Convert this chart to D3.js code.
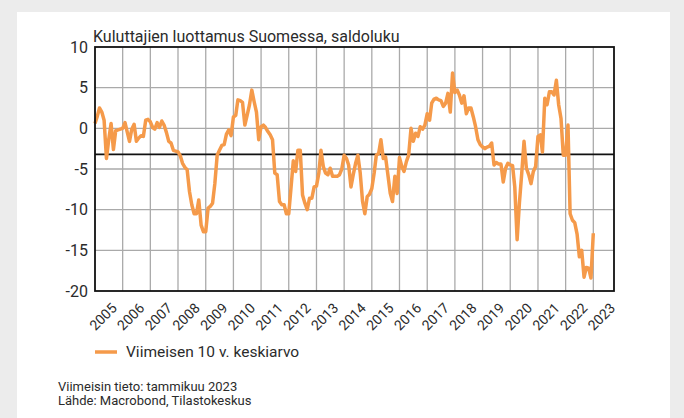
<!DOCTYPE html>
<html>
<head>
<meta charset="utf-8">
<script src="https://cdn.jsdelivr.net/npm/d3@7"></script>
<style>
  html, body { margin: 0; padding: 0; background: #ececec; }
  svg { display: block; font-family: Roboto, "DejaVu Sans", sans-serif; }
</style>
</head>
<body>
<div id="chart"></div>
<script>
// Kuluttajien luottamus Suomessa, kuukausittain tammikuu 2005 - tammikuu 2023
const startYear = 2005;
const confidence = [
    0.6, 1.5, 2.5, 2.0, 1.0, -3.7, -1.4, 0.6, -2.6, -0.3, -0.2, -0.1,          // 2005
    0.0, 0.7, -0.4, -1.6, -0.1, 0.5, -1.6, -1.2, -0.9, -1.0, 1.0, 1.1,         // 2006
    0.8, 0.1, -0.1, 0.7, 0.1, 0.9, 0.4, -0.5, -1.6, -1.8, -2.7, -2.8,          // 2007
    -2.9, -3.4, -4.3, -4.8, -5.1, -7.8, -9.4, -10.5, -10.5, -8.8, -11.9, -12.7, // 2008
    -12.7, -9.8, -9.6, -9.2, -6.8, -3.3, -2.7, -2.1, -2.0, -0.7, -0.2, -0.9,   // 2009
    1.4, 1.6, 3.5, 3.4, 3.2, 0.4, 1.6, 2.9, 4.7, 3.3, 2.0, -1.4,               // 2010
    0.2, 0.4, 0.1, -0.4, -0.8, -1.4, -5.5, -5.7, -9.0, -9.4, -9.4, -10.5,      // 2011
    -10.5, -7.2, -4.0, -5.3, -2.7, -2.7, -8.2, -9.2, -10.0, -8.6, -8.6, -7.2,  // 2012
    -7.1, -5.5, -2.7, -4.7, -5.5, -5.7, -4.9, -5.9, -5.9, -5.9, -5.7, -5.0,    // 2013
    -3.3, -3.7, -4.5, -7.2, -5.7, -4.3, -3.3, -5.5, -9.0, -10.5, -8.4, -8.1,   // 2014
    -7.4, -5.5, -3.3, -3.1, -1.4, -3.7, -3.5, -5.7, -8.0, -9.0, -5.9, -8.0,    // 2015
    -3.6, -4.7, -5.3, -4.1, -3.3, 0.0, -1.6, -0.6, -1.0, 0.2, -0.1, 0.4,       // 2016
    1.8, 1.0, 3.1, 3.6, 3.7, 3.5, 3.4, 2.7, 3.1, 4.3, 2.0, 6.8,                // 2017
    4.4, 4.7, 4.1, 3.1, 4.0, 1.8, 2.5, 2.5, 1.4, 0.2, -1.4, -2.0,              // 2018
    -2.3, -2.5, -2.3, -2.2, -1.8, -4.5, -4.2, -4.4, -4.4, -6.6, -4.9, -4.3,    // 2019
    -4.5, -4.6, -7.2, -13.7, -9.2, -5.5, -1.6, -4.9, -5.7, -6.8, -5.3, -4.7,   // 2020
    -1.0, -0.8, -2.9, 3.7, 2.9, 4.5, 4.5, 4.1, 5.9, 2.9, 1.2, -3.3,            // 2021
    -3.3, 0.4, -10.5, -11.3, -11.6, -13.0, -15.8, -15.0, -18.3, -17.1, -17.2, -18.4, // 2022
    -12.9                                                                      // 2023
];
const tenYearAverage = -3.2;

const yTicks = [10, 5, 0, -5, -10, -15, -20];
const yearLabels = d3.range(2005, 2024);

const title = "Kuluttajien luottamus Suomessa, saldoluku";
const legendLabel = "Viimeisen 10 v. keskiarvo";
const footnotes = ["Viimeisin tieto: tammikuu 2023", "Lähde: Macrobond, Tilastokeskus"];

// Colours
const lineColor = "#f59a4a";
const gridColor = "#aaaaaa";
const textColor = "#2b2b2b";

// The svg and the white panel
const width = 684;
const height = 418;

const svg = d3.select("#chart")
    .append("svg")
    .attr("width", width)
    .attr("height", height);

svg.append("rect")
    .attr("x", 17)
    .attr("y", 12)
    .attr("width", 653)
    .attr("height", height - 12)
    .attr("fill", "white");

// Plot area
const plotLeft = 95;
const plotTop = 47;
const plotWidth = 519;
const plotHeight = 244;

const x = d3.scaleTime()
    .domain([new Date(2005, 0, 1), new Date(2023, 9, 1)])
    .range([plotLeft, plotLeft + plotWidth]);

const y = d3.scaleLinear()
    .domain([-20, 10])
    .range([plotTop + plotHeight, plotTop]);

const points = confidence.map((v, i) => ({ date: new Date(startYear, i, 1), value: v }));

// Gridlines
const grid = svg.append("g");

grid.selectAll(".vgrid")
    .data(d3.range(2006, 2024))
    .enter()
    .append("line")
    .attr("x1", d => x(new Date(d, 0, 1)))
    .attr("x2", d => x(new Date(d, 0, 1)))
    .attr("y1", plotTop)
    .attr("y2", plotTop + plotHeight)
    .attr("stroke", gridColor)
    .attr("stroke-width", 1.3);

grid.selectAll(".hgrid")
    .data(yTicks.filter(d => d > -20 && d < 10))
    .enter()
    .append("line")
    .attr("x1", plotLeft)
    .attr("x2", plotLeft + plotWidth)
    .attr("y1", d => y(d))
    .attr("y2", d => y(d))
    .attr("stroke", gridColor)
    .attr("stroke-width", 1.3);

// Average line
svg.append("line")
    .attr("x1", plotLeft)
    .attr("x2", plotLeft + plotWidth)
    .attr("y1", y(tenYearAverage))
    .attr("y2", y(tenYearAverage))
    .attr("stroke", "#111")
    .attr("stroke-width", 1.6);

// The confidence line
const line = d3.line()
    .x(d => x(d.date))
    .y(d => y(d.value));

svg.append("path")
    .datum(points)
    .attr("d", line)
    .attr("fill", "none")
    .attr("stroke", lineColor)
    .attr("stroke-width", 3.5)
    .attr("stroke-linejoin", "round");

// Frame
svg.append("rect")
    .attr("x", plotLeft)
    .attr("y", plotTop)
    .attr("width", plotWidth)
    .attr("height", plotHeight)
    .attr("fill", "none")
    .attr("stroke", "#111")
    .attr("stroke-width", 1.8);

// Y labels
svg.append("g")
    .selectAll("text")
    .data(yTicks)
    .enter()
    .append("text")
    .attr("x", plotLeft - 7)
    .attr("y", d => y(d))
    .attr("dy", "0.35em")
    .attr("text-anchor", "end")
    .attr("font-size", 16)
    .attr("fill", textColor)
    .text(d => d);

// X labels, rotated
svg.append("g")
    .selectAll("text")
    .data(yearLabels)
    .enter()
    .append("text")
    .attr("transform", d => "translate(" + (x(new Date(d, 6, 1)) + 9) + "," + (plotTop + plotHeight + 18) + ") rotate(-45)")
    .attr("text-anchor", "end")
    .attr("font-size", 14)
    .attr("fill", textColor)
    .text(d => d);

// Title
svg.append("text")
    .attr("x", plotLeft - 2)
    .attr("y", 42)
    .attr("font-size", 16)
    .attr("fill", textColor)
    .text(title);

// Legend
svg.append("line")
    .attr("x1", 95)
    .attr("x2", 117)
    .attr("y1", 352)
    .attr("y2", 352)
    .attr("stroke", lineColor)
    .attr("stroke-width", 3.5);

svg.append("text")
    .attr("x", 126)
    .attr("y", 357)
    .attr("font-size", 15.5)
    .attr("fill", textColor)
    .text(legendLabel);

// Footnotes
svg.append("g")
    .selectAll("text")
    .data(footnotes)
    .enter()
    .append("text")
    .attr("x", 58)
    .attr("y", (d, i) => 391 + i * 14)
    .attr("font-size", 13)
    .attr("fill", textColor)
    .text(d => d);
</script>
</body>
</html>
